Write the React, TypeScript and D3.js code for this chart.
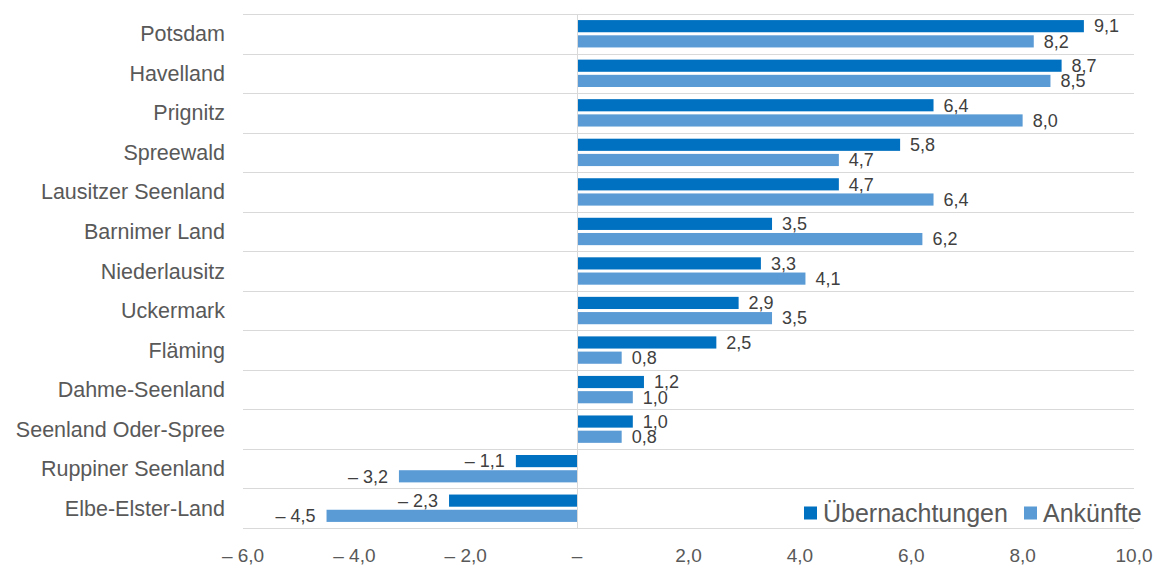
import * as d3 from 'd3';
import React, { useRef, useEffect } from 'react';

const regions = [
  'Potsdam', 'Havelland', 'Prignitz', 'Spreewald', 'Lausitzer Seenland', 'Barnimer Land',
  'Niederlausitz', 'Uckermark', 'Fläming', 'Dahme-Seenland', 'Seenland Oder-Spree',
  'Ruppiner Seenland', 'Elbe-Elster-Land',
];
const uebernachtungen = [9.1, 8.7, 6.4, 5.8, 4.7, 3.5, 3.3, 2.9, 2.5, 1.2, 1.0, -1.1, -2.3];
const ankuenfte = [8.2, 8.5, 8.0, 4.7, 6.4, 6.2, 4.1, 3.5, 0.8, 1.0, 0.8, -3.2, -4.5];
const xTicks = [-6, -4, -2, 0, 2, 4, 6, 8, 10];
const seriesNames = ['Übernachtungen', 'Ankünfte'];
const colors = ['#0070c0', '#5b9bd5'];

const fmt = (v: number) => {
  if (v === 0) return '–';
  const s = Math.abs(v).toFixed(1).replace('.', ',');
  return v < 0 ? '– ' + s : s;
};

function BarChart({ width, height }: { width: number; height: number }) {
  const ref = useRef<SVGSVGElement>(null);

  useEffect(() => {
    const svg = d3.select(ref.current);
    svg.selectAll('*').remove();
    draw(svg);
  }, []);

  const draw = (svg: any) => {
    const margin = { top: 14, left: 243, right: 23, bottom: 37 };
    const innerW = width - margin.left - margin.right;
    const innerH = height - margin.top - margin.bottom;
    const font = "'Liberation Sans', Arial, sans-serif";

    const x = d3.scaleLinear().domain([-6, 10]).range([0, innerW]);
    const y = d3.scaleBand().domain(regions).range([0, innerH]);
    const sub = d3.scaleBand().domain(['0', '1']).range([0, y.bandwidth()]).paddingInner(0.2).paddingOuter(0.4);

    const g = svg.append('g').attr('transform', `translate(${margin.left},${margin.top})`);

    // horizontal gridlines
    g.selectAll('.grid')
      .data(d3.range(regions.length + 1))
      .enter()
      .append('line')
      .attr('x1', 0)
      .attr('x2', innerW)
      .attr('y1', (i: number) => Math.round(i * y.step()) + 0.5)
      .attr('y2', (i: number) => Math.round(i * y.step()) + 0.5)
      .attr('stroke', '#d9d9d9')
      .attr('stroke-width', 1);

    const series = [uebernachtungen, ankuenfte];
    series.forEach((vals, si) => {
      const grp = g.append('g');
      grp.selectAll('rect')
        .data(regions)
        .enter()
        .append('rect')
        .attr('x', (d: string, i: number) => x(Math.min(0, vals[i])))
        .attr('y', (d: string) => (y(d) as number) + (sub(String(si)) as number))
        .attr('width', (d: string, i: number) => Math.abs(x(vals[i]) - x(0)))
        .attr('height', sub.bandwidth())
        .attr('fill', colors[si]);

      grp.selectAll('text')
        .data(regions)
        .enter()
        .append('text')
        .text((d: string, i: number) => fmt(vals[i]))
        .attr('x', (d: string, i: number) => vals[i] < 0 ? x(vals[i]) - 11 : x(vals[i]) + 10)
        .attr('y', (d: string) => (y(d) as number) + (sub(String(si)) as number) + sub.bandwidth() / 2)
        .attr('dy', '0.35em')
        .attr('text-anchor', (d: string, i: number) => vals[i] < 0 ? 'end' : 'start')
        .attr('font-family', font)
        .attr('font-size', '18px')
        .attr('fill', '#404040');
    });

    // zero line
    g.append('line')
      .attr('x1', Math.round(x(0)) + 0.5)
      .attr('x2', Math.round(x(0)) + 0.5)
      .attr('y1', 0)
      .attr('y2', innerH)
      .attr('stroke', '#d9d9d9');

    // category labels
    g.selectAll('.cat')
      .data(regions)
      .enter()
      .append('text')
      .text((d: string) => d)
      .attr('x', -18)
      .attr('y', (d: string) => (y(d) as number) + y.bandwidth() / 2)
      .attr('dy', '0.35em')
      .attr('text-anchor', 'end')
      .attr('font-family', font)
      .attr('font-size', '21.5px')
      .attr('fill', '#595959');

    // x tick labels
    g.selectAll('.tick')
      .data(xTicks)
      .enter()
      .append('text')
      .text((d: number) => fmt(d))
      .attr('x', (d: number) => x(d))
      .attr('y', innerH + 34)
      .attr('text-anchor', 'middle')
      .attr('font-family', font)
      .attr('font-size', '19px')
      .attr('fill', '#595959');

    // legend
    const legend = svg.append('g').attr('transform', 'translate(804,513)');
    const offsets = [0, 220];
    seriesNames.forEach((name, i) => {
      legend.append('rect')
        .attr('x', offsets[i])
        .attr('y', -6.5)
        .attr('width', 13)
        .attr('height', 13)
        .attr('fill', colors[i]);
      legend.append('text')
        .text(name)
        .attr('x', offsets[i] + 19)
        .attr('y', 0)
        .attr('dy', '0.35em')
        .attr('font-family', font)
        .attr('font-size', '25px')
        .attr('fill', '#595959');
    });
  };

  return <svg ref={ref} width={width} height={height} style={{ display: 'block' }}></svg>;
}

export default function App() {
  return (
    <div style={{ position: 'absolute', left: 0, top: 0, background: '#fff' }}>
      <BarChart width={1157} height={565} />
    </div>
  );
}
